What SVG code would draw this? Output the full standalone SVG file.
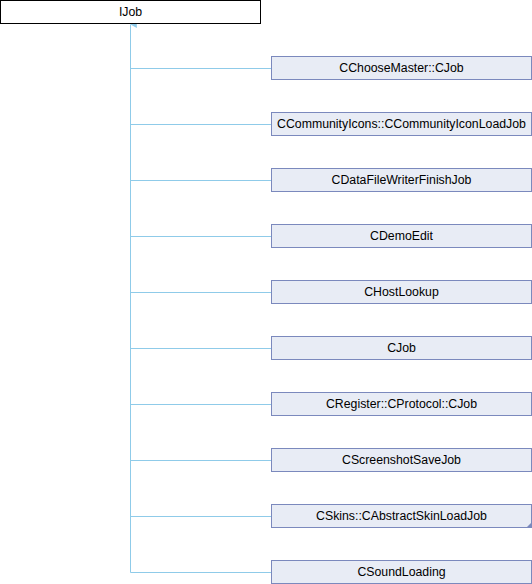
<svg xmlns="http://www.w3.org/2000/svg" width="532" height="584" viewBox="0 0 532 584">
<defs>
<style>
.node rect{fill:#e8ecf5;stroke:#7b89bd;stroke-width:1}
.root rect{fill:#ffffff;stroke:#000000;stroke-width:1}
text{font-family:"Liberation Sans",Arial,sans-serif;font-size:12.3px;fill:#000;text-anchor:middle}
.edge{stroke:#8fcbe9;stroke-width:1;fill:none}
</style>
<marker id="arr" markerWidth="8" markerHeight="8" refX="3" refY="0.5" orient="auto" markerUnits="userSpaceOnUse" viewBox="0 0 6 7">
<path d="M0,6 L3,0.5 L6,6 Z" fill="#8fcbe9"/>
</marker>
</defs>
<rect width="532" height="584" fill="#fff"/>
<g id="connectors">
<path class="edge" d="M130.5,572.5 V24.5" marker-end="url(#arr)"/>
<path class="edge" d="M130.5,68.5 H271"/>
<path class="edge" d="M130.5,124.5 H271"/>
<path class="edge" d="M130.5,180.5 H271"/>
<path class="edge" d="M130.5,236.5 H271"/>
<path class="edge" d="M130.5,292.5 H271"/>
<path class="edge" d="M130.5,348.5 H271"/>
<path class="edge" d="M130.5,404.5 H271"/>
<path class="edge" d="M130.5,460.5 H271"/>
<path class="edge" d="M130.5,516.5 H271"/>
<path class="edge" d="M130.5,572.5 H271"/>
</g>
<g id="IJob" class="root"><rect x="0.5" y="0.5" width="260" height="23"/><text x="130.5" y="16">IJob</text></g>
<g id="n1" class="node"><rect x="271.5" y="56.5" width="260" height="23"/><text x="401.5" y="72">CChooseMaster::CJob</text></g>
<g id="n2" class="node"><rect x="271.5" y="112.5" width="260" height="23"/><text x="401.5" y="128">CCommunityIcons::CCommunityIconLoadJob</text></g>
<g id="n3" class="node"><rect x="271.5" y="168.5" width="260" height="23"/><text x="401.5" y="184">CDataFileWriterFinishJob</text></g>
<g id="n4" class="node"><rect x="271.5" y="224.5" width="260" height="23"/><text x="401.5" y="240">CDemoEdit</text></g>
<g id="n5" class="node"><rect x="271.5" y="280.5" width="260" height="23"/><text x="401.5" y="296">CHostLookup</text></g>
<g id="n6" class="node"><rect x="271.5" y="336.5" width="260" height="23"/><text x="401.5" y="352">CJob</text></g>
<g id="n7" class="node"><rect x="271.5" y="392.5" width="260" height="23"/><text x="401.5" y="408">CRegister::CProtocol::CJob</text></g>
<g id="n8" class="node"><rect x="271.5" y="448.5" width="260" height="23"/><text x="401.5" y="464">CScreenshotSaveJob</text></g>
<g id="n9" class="node"><rect x="271.5" y="504.5" width="260" height="23"/><text x="401.5" y="520">CSkins::CAbstractSkinLoadJob</text><path d="M532,522 L532,528 L526,528 Z" fill="#7b89bd"/></g>
<g id="n10" class="node"><rect x="271.5" y="560.5" width="260" height="23"/><text x="401.5" y="576">CSoundLoading</text></g>
</svg>
